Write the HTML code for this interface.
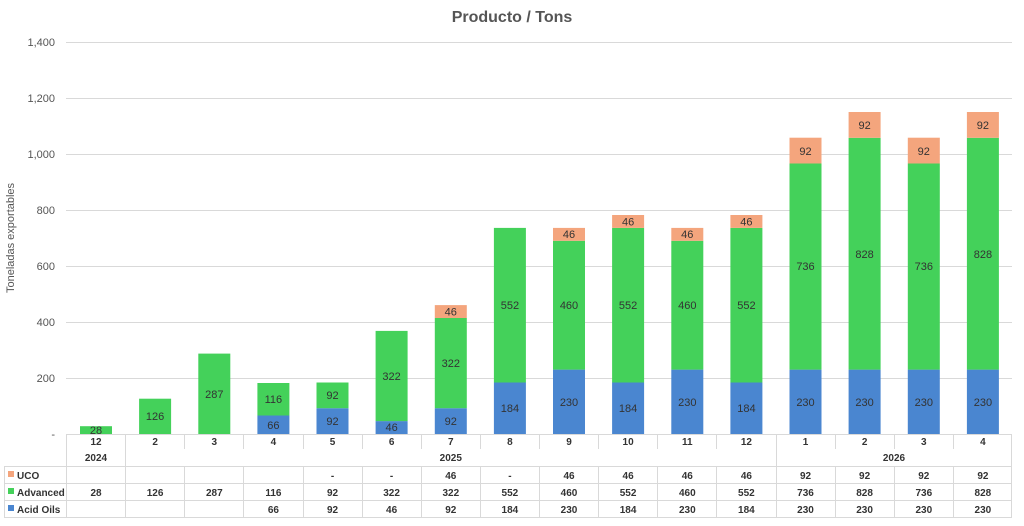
<!DOCTYPE html>
<html><head><meta charset="utf-8"><style>
body{margin:0;background:#fff}
svg{display:block;font-family:"Liberation Sans",sans-serif}
.g{fill:#44D15A}.b{fill:#4A86D0}.o{fill:#F4A57D}
.v{font-size:11px;fill:#333;text-anchor:middle}
.t{font-size:10px;fill:#333;text-anchor:middle;font-weight:bold}
.ax{font-size:11px;fill:#555;text-anchor:end}
</style></head><body>
<svg width="1024" height="526" viewBox="0 0 1024 526">
<text x="512" y="22" font-size="16" font-weight="bold" fill="#555" text-anchor="middle">Producto / Tons</text>
<g stroke="#d9d9d9" stroke-width="1">
<line x1="66" x2="1012" y1="42.5" y2="42.5"/><line x1="66" x2="1012" y1="98.5" y2="98.5"/>
<line x1="66" x2="1012" y1="154.5" y2="154.5"/><line x1="66" x2="1012" y1="210.5" y2="210.5"/>
<line x1="66" x2="1012" y1="266.5" y2="266.5"/><line x1="66" x2="1012" y1="322.5" y2="322.5"/>
<line x1="66" x2="1012" y1="378.5" y2="378.5"/>
</g>
<g class="ax"><text x="55" y="46">1,400</text><text x="55" y="102">1,200</text><text x="55" y="158">1,000</text><text x="55" y="214">800</text><text x="55" y="270">600</text><text x="55" y="326">400</text><text x="55" y="382">200</text><text x="55" y="438">-</text></g>
<text transform="translate(14,238) rotate(-90)" font-size="11" fill="#555" text-anchor="middle">Toneladas exportables</text>
<!-- bars -->
<rect class="g" x="80" y="426.2" width="32" height="7.8"/><text class="v" x="96" y="434">28</text>
<rect class="g" x="139.1" y="398.7" width="32" height="35.3"/><text class="v" x="155.1" y="420">126</text>
<rect class="g" x="198.3" y="353.6" width="32" height="80.4"/><text class="v" x="214.3" y="398">287</text>
<rect class="b" x="257.4" y="415.5" width="32" height="18.5"/><text class="v" x="273.4" y="429">66</text>
<rect class="g" x="257.4" y="383" width="32" height="32.5"/><text class="v" x="273.4" y="403">116</text>
<rect class="b" x="316.5" y="408.2" width="32" height="25.8"/><text class="v" x="332.5" y="425">92</text>
<rect class="g" x="316.5" y="382.5" width="32" height="25.7"/><text class="v" x="332.5" y="399">92</text>
<rect class="b" x="375.6" y="421.1" width="32" height="12.9"/><text class="v" x="391.6" y="431">46</text>
<rect class="g" x="375.6" y="330.9" width="32" height="90.2"/><text class="v" x="391.6" y="380">322</text>
<rect class="b" x="434.8" y="408.2" width="32" height="25.8"/><text class="v" x="450.8" y="425">92</text>
<rect class="g" x="434.8" y="318" width="32" height="90.2"/><text class="v" x="450.8" y="367">322</text>
<rect class="o" x="434.8" y="305.1" width="32" height="12.9"/><text class="v" x="450.8" y="315.5">46</text>
<rect class="b" x="493.9" y="382.5" width="32" height="51.5"/><text class="v" x="509.9" y="412">184</text>
<rect class="g" x="493.9" y="227.9" width="32" height="154.6"/><text class="v" x="509.9" y="309">552</text>
<rect class="b" x="553" y="369.6" width="32" height="64.4"/><text class="v" x="569" y="406">230</text>
<rect class="g" x="553" y="240.8" width="32" height="128.8"/><text class="v" x="569" y="309">460</text>
<rect class="o" x="553" y="227.9" width="32" height="12.9"/><text class="v" x="569" y="238">46</text>
<rect class="b" x="612.1" y="382.5" width="32" height="51.5"/><text class="v" x="628.1" y="412">184</text>
<rect class="g" x="612.1" y="227.9" width="32" height="154.6"/><text class="v" x="628.1" y="309">552</text>
<rect class="o" x="612.1" y="215" width="32" height="12.9"/><text class="v" x="628.1" y="225.5">46</text>
<rect class="b" x="671.3" y="369.6" width="32" height="64.4"/><text class="v" x="687.3" y="406">230</text>
<rect class="g" x="671.3" y="240.8" width="32" height="128.8"/><text class="v" x="687.3" y="309">460</text>
<rect class="o" x="671.3" y="227.9" width="32" height="12.9"/><text class="v" x="687.3" y="238">46</text>
<rect class="b" x="730.4" y="382.5" width="32" height="51.5"/><text class="v" x="746.4" y="412">184</text>
<rect class="g" x="730.4" y="227.9" width="32" height="154.6"/><text class="v" x="746.4" y="309">552</text>
<rect class="o" x="730.4" y="215" width="32" height="12.9"/><text class="v" x="746.4" y="225.5">46</text>
<rect class="b" x="789.5" y="369.6" width="32" height="64.4"/><text class="v" x="805.5" y="406">230</text>
<rect class="g" x="789.5" y="163.5" width="32" height="206.1"/><text class="v" x="805.5" y="270">736</text>
<rect class="o" x="789.5" y="137.7" width="32" height="25.8"/><text class="v" x="805.5" y="155">92</text>
<rect class="b" x="848.6" y="369.6" width="32" height="64.4"/><text class="v" x="864.6" y="406">230</text>
<rect class="g" x="848.6" y="137.8" width="32" height="231.8"/><text class="v" x="864.6" y="258">828</text>
<rect class="o" x="848.6" y="112" width="32" height="25.8"/><text class="v" x="864.6" y="129">92</text>
<rect class="b" x="907.8" y="369.6" width="32" height="64.4"/><text class="v" x="923.8" y="406">230</text>
<rect class="g" x="907.8" y="163.5" width="32" height="206.1"/><text class="v" x="923.8" y="270">736</text>
<rect class="o" x="907.8" y="137.7" width="32" height="25.8"/><text class="v" x="923.8" y="155">92</text>
<rect class="b" x="966.9" y="369.6" width="32" height="64.4"/><text class="v" x="982.9" y="406">230</text>
<rect class="g" x="966.9" y="137.8" width="32" height="231.8"/><text class="v" x="982.9" y="258">828</text>
<rect class="o" x="966.9" y="112" width="32" height="25.8"/><text class="v" x="982.9" y="129">92</text>
<!-- table -->
<g stroke="#d9d9d9" stroke-width="1" fill="none">
<line x1="66" x2="1012" y1="434.5" y2="434.5"/>
<line x1="4" x2="1012" y1="466.5" y2="466.5"/>
<line x1="4" x2="1012" y1="483.5" y2="483.5"/>
<line x1="4" x2="1012" y1="500.5" y2="500.5"/>
<line x1="4" x2="1012" y1="517.5" y2="517.5"/>
<line x1="4.5" x2="4.5" y1="466" y2="517"/>
<line x1="66.5" x2="66.5" y1="434" y2="517"/><line x1="125.5" x2="125.5" y1="434" y2="517"/>
<line x1="184.5" x2="184.5" y1="434" y2="449"/><line x1="184.5" x2="184.5" y1="466" y2="517"/>
<line x1="243.5" x2="243.5" y1="434" y2="449"/><line x1="243.5" x2="243.5" y1="466" y2="517"/>
<line x1="303.5" x2="303.5" y1="434" y2="449"/><line x1="303.5" x2="303.5" y1="466" y2="517"/>
<line x1="362.5" x2="362.5" y1="434" y2="449"/><line x1="362.5" x2="362.5" y1="466" y2="517"/>
<line x1="421.5" x2="421.5" y1="434" y2="449"/><line x1="421.5" x2="421.5" y1="466" y2="517"/>
<line x1="480.5" x2="480.5" y1="434" y2="449"/><line x1="480.5" x2="480.5" y1="466" y2="517"/>
<line x1="539.5" x2="539.5" y1="434" y2="449"/><line x1="539.5" x2="539.5" y1="466" y2="517"/>
<line x1="598.5" x2="598.5" y1="434" y2="449"/><line x1="598.5" x2="598.5" y1="466" y2="517"/>
<line x1="657.5" x2="657.5" y1="434" y2="449"/><line x1="657.5" x2="657.5" y1="466" y2="517"/>
<line x1="716.5" x2="716.5" y1="434" y2="449"/><line x1="716.5" x2="716.5" y1="466" y2="517"/>
<line x1="776.5" x2="776.5" y1="434" y2="517"/>
<line x1="835.5" x2="835.5" y1="434" y2="449"/><line x1="835.5" x2="835.5" y1="466" y2="517"/>
<line x1="894.5" x2="894.5" y1="434" y2="449"/><line x1="894.5" x2="894.5" y1="466" y2="517"/>
<line x1="953.5" x2="953.5" y1="434" y2="449"/><line x1="953.5" x2="953.5" y1="466" y2="517"/>
<line x1="1011.5" x2="1011.5" y1="434" y2="517"/>
</g>
<g class="t">
<text x="96" y="445">12</text><text x="155.1" y="445">2</text><text x="214.3" y="445">3</text><text x="273.4" y="445">4</text><text x="332.5" y="445">5</text><text x="391.6" y="445">6</text><text x="450.8" y="445">7</text><text x="509.9" y="445">8</text><text x="569" y="445">9</text><text x="628.1" y="445">10</text><text x="687.3" y="445">11</text><text x="746.4" y="445">12</text><text x="805.5" y="445">1</text><text x="864.6" y="445">2</text><text x="923.8" y="445">3</text><text x="982.9" y="445">4</text>
<text x="96" y="461">2024</text><text x="450.8" y="461">2025</text><text x="894" y="461">2026</text>
<text x="332.5" y="479">-</text><text x="391.6" y="479">-</text><text x="450.8" y="479">46</text><text x="509.9" y="479">-</text><text x="569" y="479">46</text><text x="628.1" y="479">46</text><text x="687.3" y="479">46</text><text x="746.4" y="479">46</text><text x="805.5" y="479">92</text><text x="864.6" y="479">92</text><text x="923.8" y="479">92</text><text x="982.9" y="479">92</text>
<text x="96" y="496">28</text><text x="155.1" y="496">126</text><text x="214.3" y="496">287</text><text x="273.4" y="496">116</text><text x="332.5" y="496">92</text><text x="391.6" y="496">322</text><text x="450.8" y="496">322</text><text x="509.9" y="496">552</text><text x="569" y="496">460</text><text x="628.1" y="496">552</text><text x="687.3" y="496">460</text><text x="746.4" y="496">552</text><text x="805.5" y="496">736</text><text x="864.6" y="496">828</text><text x="923.8" y="496">736</text><text x="982.9" y="496">828</text>
<text x="273.4" y="513">66</text><text x="332.5" y="513">92</text><text x="391.6" y="513">46</text><text x="450.8" y="513">92</text><text x="509.9" y="513">184</text><text x="569" y="513">230</text><text x="628.1" y="513">184</text><text x="687.3" y="513">230</text><text x="746.4" y="513">184</text><text x="805.5" y="513">230</text><text x="864.6" y="513">230</text><text x="923.8" y="513">230</text><text x="982.9" y="513">230</text>
</g>
<rect class="o" x="8" y="471" width="6" height="6"/><text x="17" y="479" font-size="10" font-weight="bold" fill="#333">UCO</text>
<rect class="g" x="8" y="488" width="6" height="6"/><text x="17" y="496" font-size="10" font-weight="bold" fill="#333">Advanced</text>
<rect class="b" x="8" y="505" width="6" height="6"/><text x="17" y="513" font-size="10" font-weight="bold" fill="#333">Acid Oils</text>
</svg>
</body></html>
